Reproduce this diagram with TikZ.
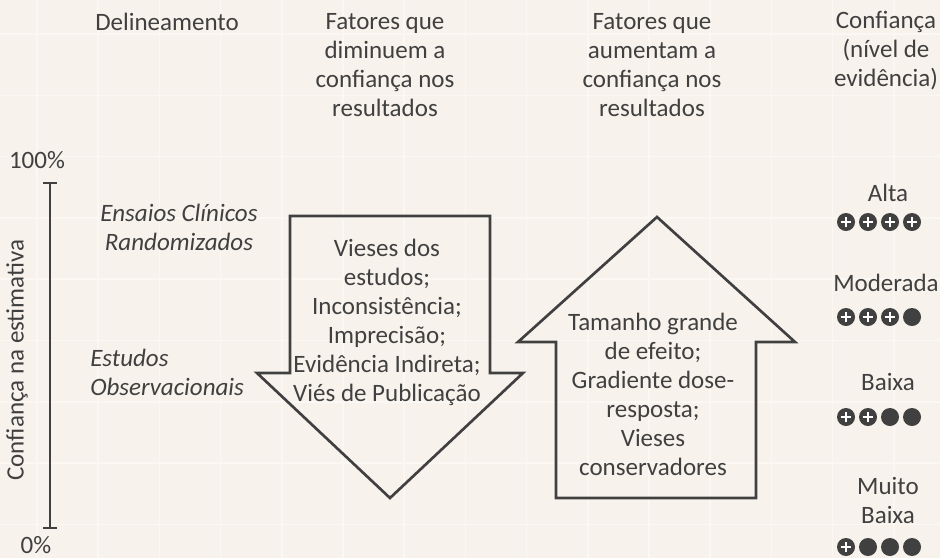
\documentclass[tikz,border=0pt]{standalone}
\usepackage{fontspec}
\setmainfont{Carlito}
\definecolor{bg}{HTML}{F8F2EC}
\definecolor{tc}{HTML}{404040}
\definecolor{gridc}{HTML}{FBF8F4}
\begin{document}
\begin{tikzpicture}[x=0.75pt,y=-0.75pt,
  txt/.style={text=tc, font=\fontsize{18.75}{21.75}\selectfont, align=center, inner sep=0pt},
  itxt/.style={txt, font=\fontsize{18.75}{21.75}\selectfont\itshape},
  gridline/.style={draw=gridc, line width=1.1pt},
  shapeline/.style={draw=tc, line width=2pt, line join=miter},
  bar/.style={draw=tc, line width=2.2pt},
  dot/.style={circle, fill=tc, minimum size=13.5pt, inner sep=0pt},
  plusline/.style={draw=white, line width=1.7pt}]
\fill[bg] (0,0) rectangle (940,558);
\useasboundingbox (0,0) rectangle (940,558);
% faint grid
\foreach \i in {0,...,14} {\draw[gridline] ({37+61.2*\i},0) -- ++(0,558);}
\foreach \j in {0,...,8} {\draw[gridline] (0,{34+61.3*\j}) -- ++(940,0);}

% headers
\node[txt] (h1) at (167,22) {Delineamento};
\node[txt] (h2) at (385,65) {Fatores que\\diminuem a\\confiança nos\\resultados};
\node[txt] (h3) at (652,65) {Fatores que\\aumentam a\\confiança nos\\resultados};
\node[txt] (h4) at (886,51) {Confiança\\(nível de\\evidência)};

% vertical scale
\node[txt] (p100) at (37,160) {100\%};
\node[txt] (p0) at (36,545) {0\%};
\node[txt, rotate=90] (ylab) at (17,360) {Confiança na estimativa};
\coordinate (btop) at (50,183);
\coordinate (bbot) at (50,528);
\draw[bar] (btop) -- (bbot);
\draw[bar] ([xshift=-5.25pt]btop) -- ([xshift=5.25pt]btop);
\draw[bar] ([xshift=-5.25pt]bbot) -- ([xshift=5.25pt]bbot);

% study designs
\node[itxt] (ecr) at (179,227) {Ensaios Clínicos\\Randomizados};
\node[itxt, align=left, anchor=west] (eo) at (90,372) {Estudos\\Observacionais};

% down arrow
\draw[shapeline] (290,216) -- (490,216) -- (490,373) -- (523,373) -- (390,498) -- (257,373) -- (290,373) -- cycle;
\node[txt] (down) at (387,322.5) {Vieses dos\\estudos;\\Inconsistência;\\Imprecisão;\\Evidência Indireta;\\Viés de Publicação};

% up arrow
\draw[shapeline] (657,217) -- (795,342) -- (756,342) -- (756,498) -- (556,498) -- (556,342) -- (518,342) -- cycle;
\node[txt] (up) at (653,394.5) {Tamanho grande\\de efeito;\\Gradiente dose-\\resposta;\\Vieses\\conservadores};

% levels
\node[txt] (la) at (888,193) {Alta};
\node[txt] (lm) at (886,283) {Moderada};
\node[txt] (lb) at (888,382) {Baixa};
\node[txt] (lmb) at (888,500) {Muito\\Baixa};

\foreach \row/\yy/\np in {a/222/4, m/317/3, b/417/2, mb/547/1} {
  \foreach \k in {1,...,4} {
    \node[dot] (d\row\k) at ({824+22*\k},\yy) {};
    \ifnum\k>\np\relax\else
      \draw[plusline] ([xshift=-4pt]d\row\k.center) -- ([xshift=4pt]d\row\k.center);
      \draw[plusline] ([yshift=-4pt]d\row\k.center) -- ([yshift=4pt]d\row\k.center);
    \fi
  }
}
\end{tikzpicture}
\end{document}
